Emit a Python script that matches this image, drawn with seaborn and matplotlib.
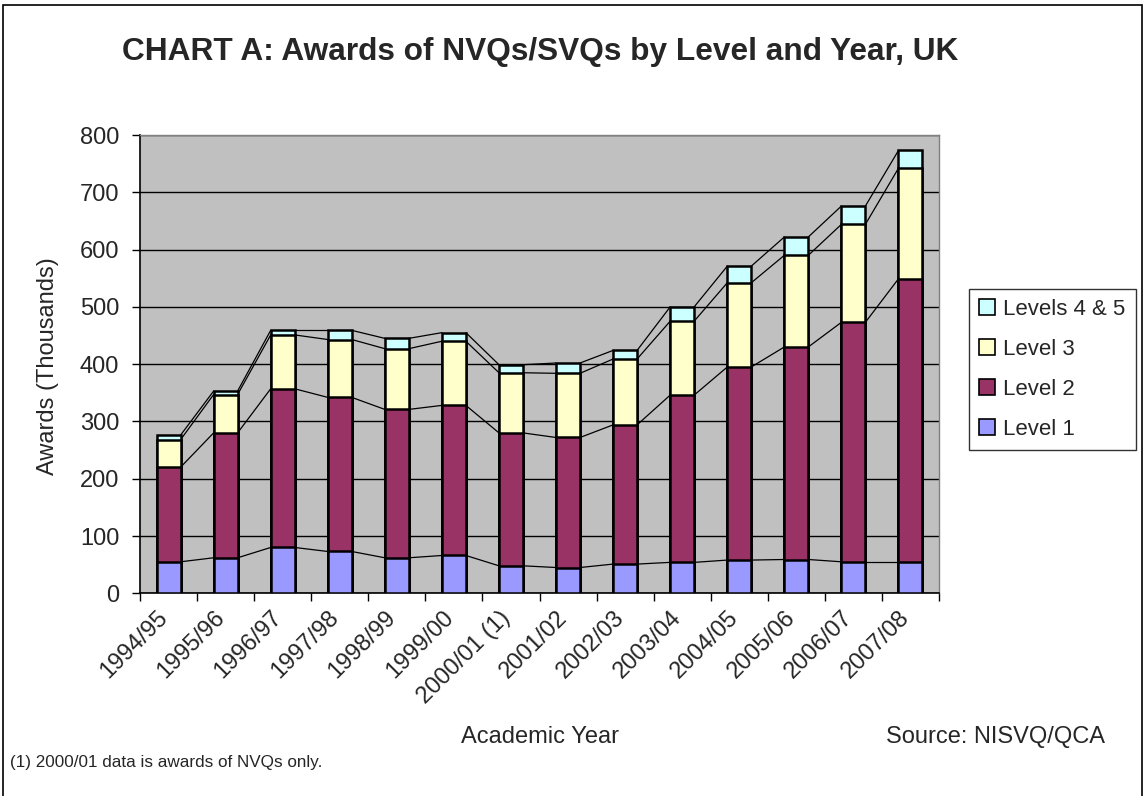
import matplotlib
matplotlib.use("Agg")
import matplotlib.pyplot as plt
from matplotlib.patches import Rectangle, Patch
from matplotlib.transforms import ScaledTranslation
import seaborn as sns
import pandas as pd
import numpy as np

years = ["1994/95", "1995/96", "1996/97", "1997/98", "1998/99", "1999/00",
         "2000/01 (1)", "2001/02", "2002/03", "2003/04", "2004/05", "2005/06",
         "2006/07", "2007/08"]
level1 = [55, 62, 80, 73, 62, 66, 48, 45, 51, 54, 58, 59, 55, 55]
level2 = [165, 218, 277, 269, 259, 262, 232, 227, 243, 292, 337, 371, 418, 494]
level3 = [48, 67, 94, 101, 106, 112, 105, 112, 115, 129, 147, 160, 171, 193]
level45 = [8, 6, 8, 16, 18, 15, 14, 18, 15, 25, 29, 32, 32, 31]

series_names = ["Level 1", "Level 2", "Level 3", "Levels 4 & 5"]
colors = ["#9999FF", "#993366", "#FFFFCC", "#CCFFFF"]

sns.set_style("white")
plt.rcParams['font.family'] = ['Liberation Sans', 'DejaVu Sans']

W, H = 1145, 796
fig = plt.figure(figsize=(W / 100, H / 100), dpi=100)
ax = fig.add_axes([140 / W, 1 - 593.3 / H, (939 - 140) / W, (593.3 - 135) / H])
ax.set_facecolor("#C0C0C0")

df = pd.DataFrame({"year": years, "l1": level1, "l2": level2, "l3": level3, "l45": level45})
df["c1"] = df["l1"]
df["c2"] = df["c1"] + df["l2"]
df["c3"] = df["c2"] + df["l3"]
df["c4"] = df["c3"] + df["l45"]
cums = ["c1", "c2", "c3", "c4"]

bw = 0.42
# stacked bars drawn as overlapping cumulative bars, largest first
for col, color in zip(reversed(cums), reversed(colors)):
    sns.barplot(data=df, x="year", y=col, color=color, width=bw, saturation=1,
                edgecolor="black", linewidth=1.8, ax=ax, zorder=3)

# series lines joining the stacked segments
n = len(years)
for col in cums:
    vals = df[col].values
    for i in range(n - 1):
        ax.plot([i + bw / 2, i + 1 - bw / 2], [vals[i], vals[i + 1]],
                color="black", lw=0.9, zorder=2.5)

FS = 17
ax.set_xlim(-0.5, n - 0.5)
ax.set_ylim(0, 800)
ax.set_yticks(np.arange(0, 801, 100))
ax.yaxis.grid(True, color="black", lw=1.0)
ax.set_axisbelow(True)
ax.tick_params(axis="y", labelsize=FS, length=6, width=1, direction="out",
               color="black", pad=9, left=True)
ax.set_xticks(np.arange(n))
ax.set_xticklabels(years, rotation=45, ha="right", va="center",
                   rotation_mode="anchor", fontsize=FS)
ax.tick_params(axis="x", length=0, pad=15)
off = ScaledTranslation(-4 / 100, 0, fig.dpi_scale_trans)
for lab in ax.get_xticklabels():
    lab.set_transform(lab.get_transform() + off)
ax.set_xticks(np.arange(-0.5, n, 1.0), minor=True)
ax.tick_params(axis="x", which="minor", length=6, width=1, color="black",
               direction="out", bottom=True)

for side in ["left", "bottom"]:
    ax.spines[side].set_color("black")
    ax.spines[side].set_linewidth(1.2)
for side in ["top", "right"]:
    ax.spines[side].set_color("#808080")
    ax.spines[side].set_linewidth(1.0)

ax.set_xlabel("")
ax.set_ylabel("")
fig.text(48 / W, 1 - 366 / H, "Awards (Thousands)", rotation=90,
         ha="center", va="center", fontsize=FS)

fig.text(540 / W, 1 - 52 / H, "CHART A: Awards of NVQs/SVQs by Level and Year, UK",
         ha="center", va="center", fontsize=22.8, fontweight="bold")
fig.text(540 / W, 1 - 737 / H, "Academic Year", ha="center", va="center", fontsize=FS)
fig.text(1105 / W, 1 - 737 / H, "Source: NISVQ/QCA", ha="right", va="center", fontsize=FS)
fig.text(10 / W, 1 - 763 / H, "(1) 2000/01 data is awards of NVQs only.",
         ha="left", va="center", fontsize=12.3)

handles = [Patch(facecolor=c, edgecolor="black", lw=1.2, label=s)
           for s, c in zip(reversed(series_names), reversed(colors))]
leg = fig.legend(handles=handles, loc="upper left", bbox_to_anchor=(969 / W, 1 - 289 / H),
                 fontsize=16, frameon=True, fancybox=False, handlelength=0.7,
                 handleheight=0.7, handletextpad=0.4, labelspacing=0.85,
                 borderpad=0.45, borderaxespad=0)
leg.get_frame().set_edgecolor("black")
leg.get_frame().set_linewidth(1.0)

fig.patches.append(Rectangle((3 / W, -0.01), (1142 - 3) / W, (H - 5) / H + 0.01,
                             transform=fig.transFigure, fill=False, edgecolor="black", lw=1.2))

fig.savefig("out.png", dpi=100, facecolor="white")
